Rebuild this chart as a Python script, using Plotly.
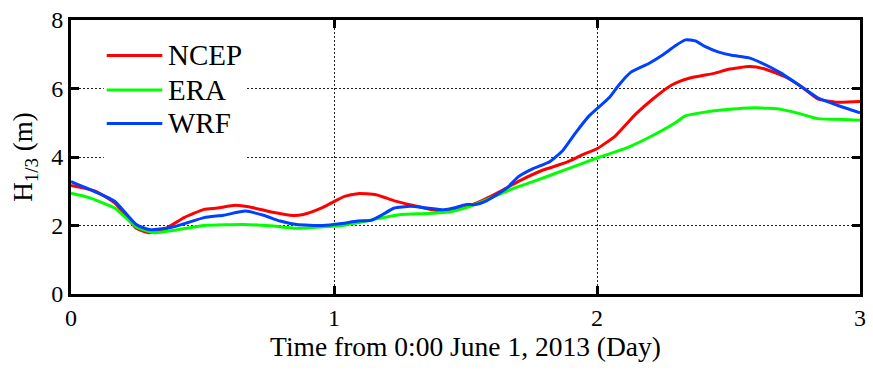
import plotly.graph_objects as go

# ---------------- data ----------------
series_names = ["NCEP", "ERA", "WRF"]
series_colors = ["#ff0000", "#00ff00", "#0040ff"]

ncep_x = [0.0, 0.09, 0.166, 0.248, 0.298, 0.355, 0.43, 0.506, 0.556, 0.625, 0.68, 0.757, 0.845, 0.883,
          0.958, 1.04, 1.09, 1.16, 1.229, 1.305, 1.38, 1.443, 1.506, 1.569, 1.631, 1.707, 1.795, 1.883,
          1.946, 2.0, 2.07, 2.147, 2.21, 2.286, 2.35, 2.449, 2.50, 2.58, 2.638, 2.713, 2.776, 2.839,
          2.914, 3.0]
ncep_y = [3.17, 3.01, 2.66, 1.92, 1.79, 1.89, 2.23, 2.47, 2.51, 2.59, 2.54, 2.40, 2.29, 2.32,
          2.53, 2.85, 2.93, 2.90, 2.72, 2.58, 2.45, 2.42, 2.55, 2.75, 2.99, 3.31, 3.62, 3.84,
          4.07, 4.24, 4.62, 5.25, 5.68, 6.11, 6.30, 6.45, 6.56, 6.64, 6.57, 6.35, 6.06, 5.70,
          5.60, 5.62]

era_x = [0.0, 0.065, 0.166, 0.248, 0.317, 0.392, 0.506, 0.657, 0.757, 0.858, 0.958, 1.03, 1.09,
         1.166, 1.254, 1.355, 1.443, 1.506, 1.58, 1.669, 1.77, 1.87, 2.0, 2.12, 2.21, 2.298, 2.336,
         2.41, 2.474, 2.60, 2.70, 2.763, 2.839, 2.914, 3.0]
era_y = [2.94, 2.82, 2.51, 1.96, 1.79, 1.86, 2.00, 2.03, 1.99, 1.92, 1.96, 2.00, 2.08,
         2.20, 2.32, 2.35, 2.40, 2.53, 2.75, 3.04, 3.32, 3.60, 3.97, 4.29, 4.62, 5.00, 5.20,
         5.31, 5.37, 5.44, 5.39, 5.28, 5.12, 5.10, 5.07]

wrf_x = [0.0, 0.09, 0.166, 0.248, 0.298, 0.38, 0.43, 0.506, 0.58, 0.663, 0.732, 0.795, 0.858, 0.958,
         1.03, 1.09, 1.14, 1.185, 1.229, 1.29, 1.355, 1.418, 1.455, 1.50, 1.537, 1.58, 1.657, 1.70,
         1.757, 1.82, 1.87, 1.92, 1.97, 2.0, 2.046, 2.084, 2.128, 2.197, 2.248, 2.298, 2.336, 2.374,
         2.41, 2.46, 2.512, 2.575, 2.625, 2.70, 2.776, 2.839, 2.914, 3.0]
wrf_y = [3.28, 2.99, 2.71, 2.03, 1.88, 1.94, 2.05, 2.23, 2.30, 2.42, 2.30, 2.13, 2.03, 2.00,
         2.06, 2.13, 2.15, 2.32, 2.51, 2.56, 2.51, 2.46, 2.51, 2.61, 2.61, 2.72, 3.09, 3.42,
         3.66, 3.86, 4.19, 4.72, 5.20, 5.41, 5.73, 6.11, 6.47, 6.73, 6.97, 7.25, 7.42, 7.39,
         7.23, 7.07, 6.97, 6.90, 6.75, 6.45, 6.06, 5.73, 5.51, 5.29]

x_ticks = [0, 1, 2, 3]
y_ticks = [0, 2, 4, 6, 8]

# ---------------- figure ----------------
FONT = "Liberation Serif"
fig = go.Figure()
for name, color, xs, ys in zip(series_names, series_colors,
                               [ncep_x, era_x, wrf_x], [ncep_y, era_y, wrf_y]):
    fig.add_trace(go.Scatter(x=xs, y=ys, mode="lines", name=name,
                             line=dict(color=color, width=3, shape="spline", smoothing=0.5),
                             showlegend=False))

# manual legend (white box over the grid, line samples and labels)
L_W, L_H = 795.0, 278.0
def px2paper(px, py):
    return (px - 71) / L_W, (294 - py) / L_H

bx0, by0 = px2paper(104, 162)
bx1, by1 = px2paper(248, 26)
fig.add_shape(type="rect", xref="paper", yref="paper", x0=bx0, y0=by0, x1=bx1, y1=by1,
              fillcolor="white", line=dict(width=0), layer="above")
legend_rows_py = [52, 87, 121]
for name, color, py in zip(series_names, series_colors, legend_rows_py):
    lx0, ly = px2paper(107, py)
    lx1, _ = px2paper(163, py)
    fig.add_shape(type="line", xref="paper", yref="paper", x0=lx0, x1=lx1, y0=ly, y1=ly,
                  line=dict(color=color, width=3), layer="above")
    tx, _ = px2paper(167, py)
    fig.add_annotation(xref="paper", yref="paper", x=tx, y=ly, text=name, showarrow=False,
                       xanchor="left", yanchor="middle",
                       font=dict(family=FONT, size=29, color="black"))

axis_common = dict(showline=True, linewidth=3, linecolor="black", mirror="ticks",
                   ticks="inside", ticklen=8, tickwidth=3, tickcolor="black",
                   showgrid=True, gridcolor="#222", gridwidth=1, griddash="2px,2px",
                   zeroline=False, tickfont=dict(family=FONT, size=24, color="black"))

fig.update_xaxes(range=[0, 3], tickvals=x_ticks, ticktext=[str(v) for v in x_ticks],
                 title=dict(text="Time from 0:00 June 1, 2013 (Day)",
                            font=dict(family=FONT, size=27.5, color="black"), standoff=6),
                 **axis_common)
fig.update_yaxes(range=[0, 8], tickvals=y_ticks, ticktext=[str(v) for v in y_ticks],
                 title=dict(text="H<sub>1/3</sub> (m)",
                            font=dict(family=FONT, size=27, color="black"), standoff=11),
                 **axis_common)

fig.update_layout(width=873, height=371,
                  margin=dict(l=71, r=7, t=16, b=77),
                  paper_bgcolor="white", plot_bgcolor="white",
                  font=dict(family=FONT, color="black"))

fig.write_html("out.html")
